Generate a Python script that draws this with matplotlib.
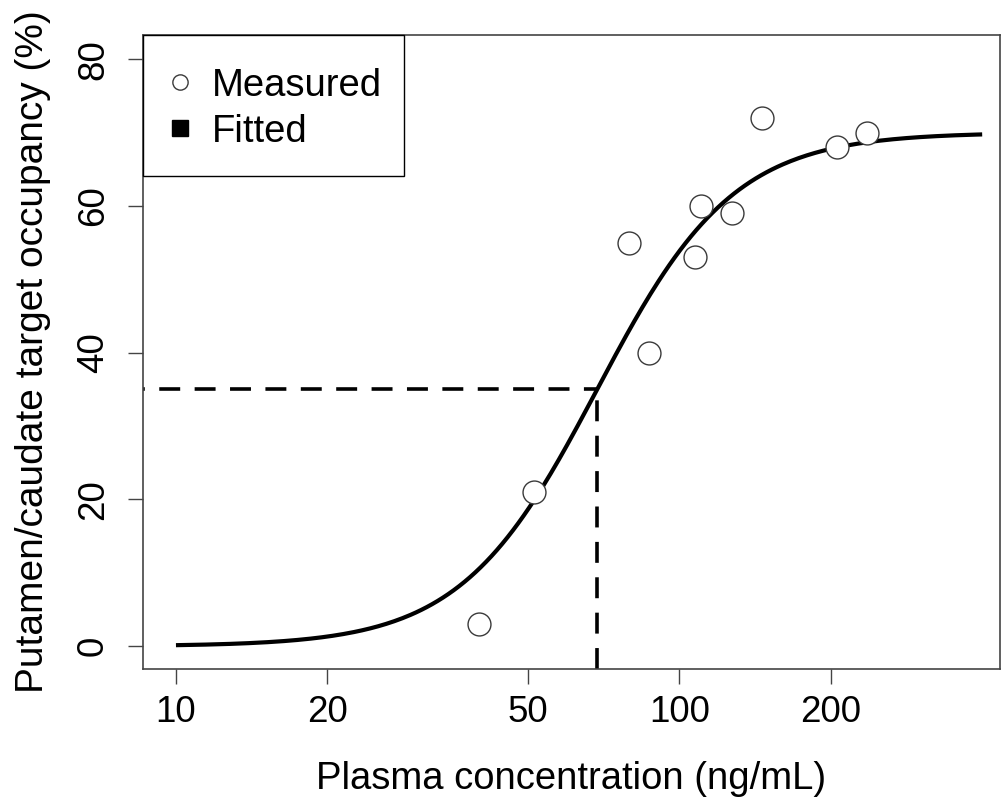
import numpy as np
import matplotlib
matplotlib.use("Agg")
import matplotlib.pyplot as plt
from matplotlib.patches import Rectangle

plt.rcParams['font.family'] = ['Liberation Sans', 'DejaVu Sans']

# measured points
conc = [40.0, 51.5, 79.3, 87.1, 107.6, 110.7, 127.4, 146.2, 206.0, 236.6]
occupancy = [3, 21, 55, 40, 53, 60, 59, 72, 68, 70]

# fitted Emax model parameters
emax = 70.0
ec50 = 68.7
hill = 3.2
c_min, c_max = 10, 400

xticks = [10, 20, 50, 100, 200]
yticks = [0, 20, 40, 60, 80]
legend_labels = ['Measured', 'Fitted']

W, H = 1003, 801
L, R, T, B = 143, 1000, 35, 669
fig = plt.figure(figsize=(W / 100, H / 100), dpi=100)
ax = fig.add_axes([L / W, 1 - B / H, (R - L) / W, (B - T) / H])

c_fit = np.logspace(np.log10(c_min), np.log10(c_max), 300)
occ_fit = emax * c_fit ** hill / (ec50 ** hill + c_fit ** hill)

ax.plot(c_fit, occ_fit, color='black', lw=3.0, solid_capstyle='butt', zorder=3)
ax.plot(conc, occupancy, 'o', ms=16.5, mfc='white', mec='#3a3a3a', mew=1.0, zorder=4)

ax.set_xscale('log')
ax.set_xlim(8.6, 434)
ax.set_ylim(-3.1, 83.3)

# EC50 guide lines
half = emax / 2
ax.plot([ax.get_xlim()[0], ec50], [half, half], color='black', lw=2.6, ls=(5.3, (5.8, 4.0)),
        dash_capstyle='butt', zorder=2)
ax.plot([ec50, ec50], [ax.get_ylim()[0], half], color='black', lw=2.6, ls=(0, (5.8, 4.0)),
        dash_capstyle='butt', zorder=2)

ax.set_xticks(xticks)
ax.set_xticklabels([str(t) for t in xticks])
ax.xaxis.set_minor_locator(matplotlib.ticker.NullLocator())
ax.set_yticks(yticks)
ax.set_yticklabels([str(t) for t in yticks], rotation=90, va='center')

for s in ax.spines.values():
    s.set_color('#444444')
    s.set_linewidth(1.2)
ax.tick_params(axis='both', length=11, width=1.0, color='#444444', labelsize=26.5)
ax.tick_params(axis='x', pad=8)
ax.tick_params(axis='y', pad=12)

ax.set_xlabel('Plasma concentration (ng/mL)', fontsize=27.5, labelpad=22)
ax.set_ylabel('Putamen/caudate target occupancy (%)', fontsize=28, labelpad=18)

# legend box drawn R-style in the top-left corner
def axfrac(px, py):
    return (px - L) / (R - L), (B - py) / (B - T)

x0, y0 = axfrac(143, 176)
x1, y1 = axfrac(404, 35)
ax.add_patch(Rectangle((x0, y0), x1 - x0, y1 - y0, transform=ax.transAxes,
                       facecolor='white', edgecolor='black', lw=1.0, zorder=5, clip_on=False))
mx, my1 = axfrac(180, 82)
_, my2 = axfrac(180, 128)
tx, _ = axfrac(212, 0)
ax.plot([mx], [my1], 'o', ms=11, mfc='white', mec='#3a3a3a', mew=1.0,
        transform=ax.transAxes, zorder=6, clip_on=False)
ax.plot([mx], [my2], 's', ms=11, mfc='black', mec='black',
        transform=ax.transAxes, zorder=6, clip_on=False)
ax.text(tx, my1, legend_labels[0], transform=ax.transAxes, fontsize=27.5,
        va='center_baseline', ha='left', zorder=6)
ax.text(tx, my2, legend_labels[1], transform=ax.transAxes, fontsize=27.5,
        va='center_baseline', ha='left', zorder=6)

fig.savefig('out.png', dpi=100)
